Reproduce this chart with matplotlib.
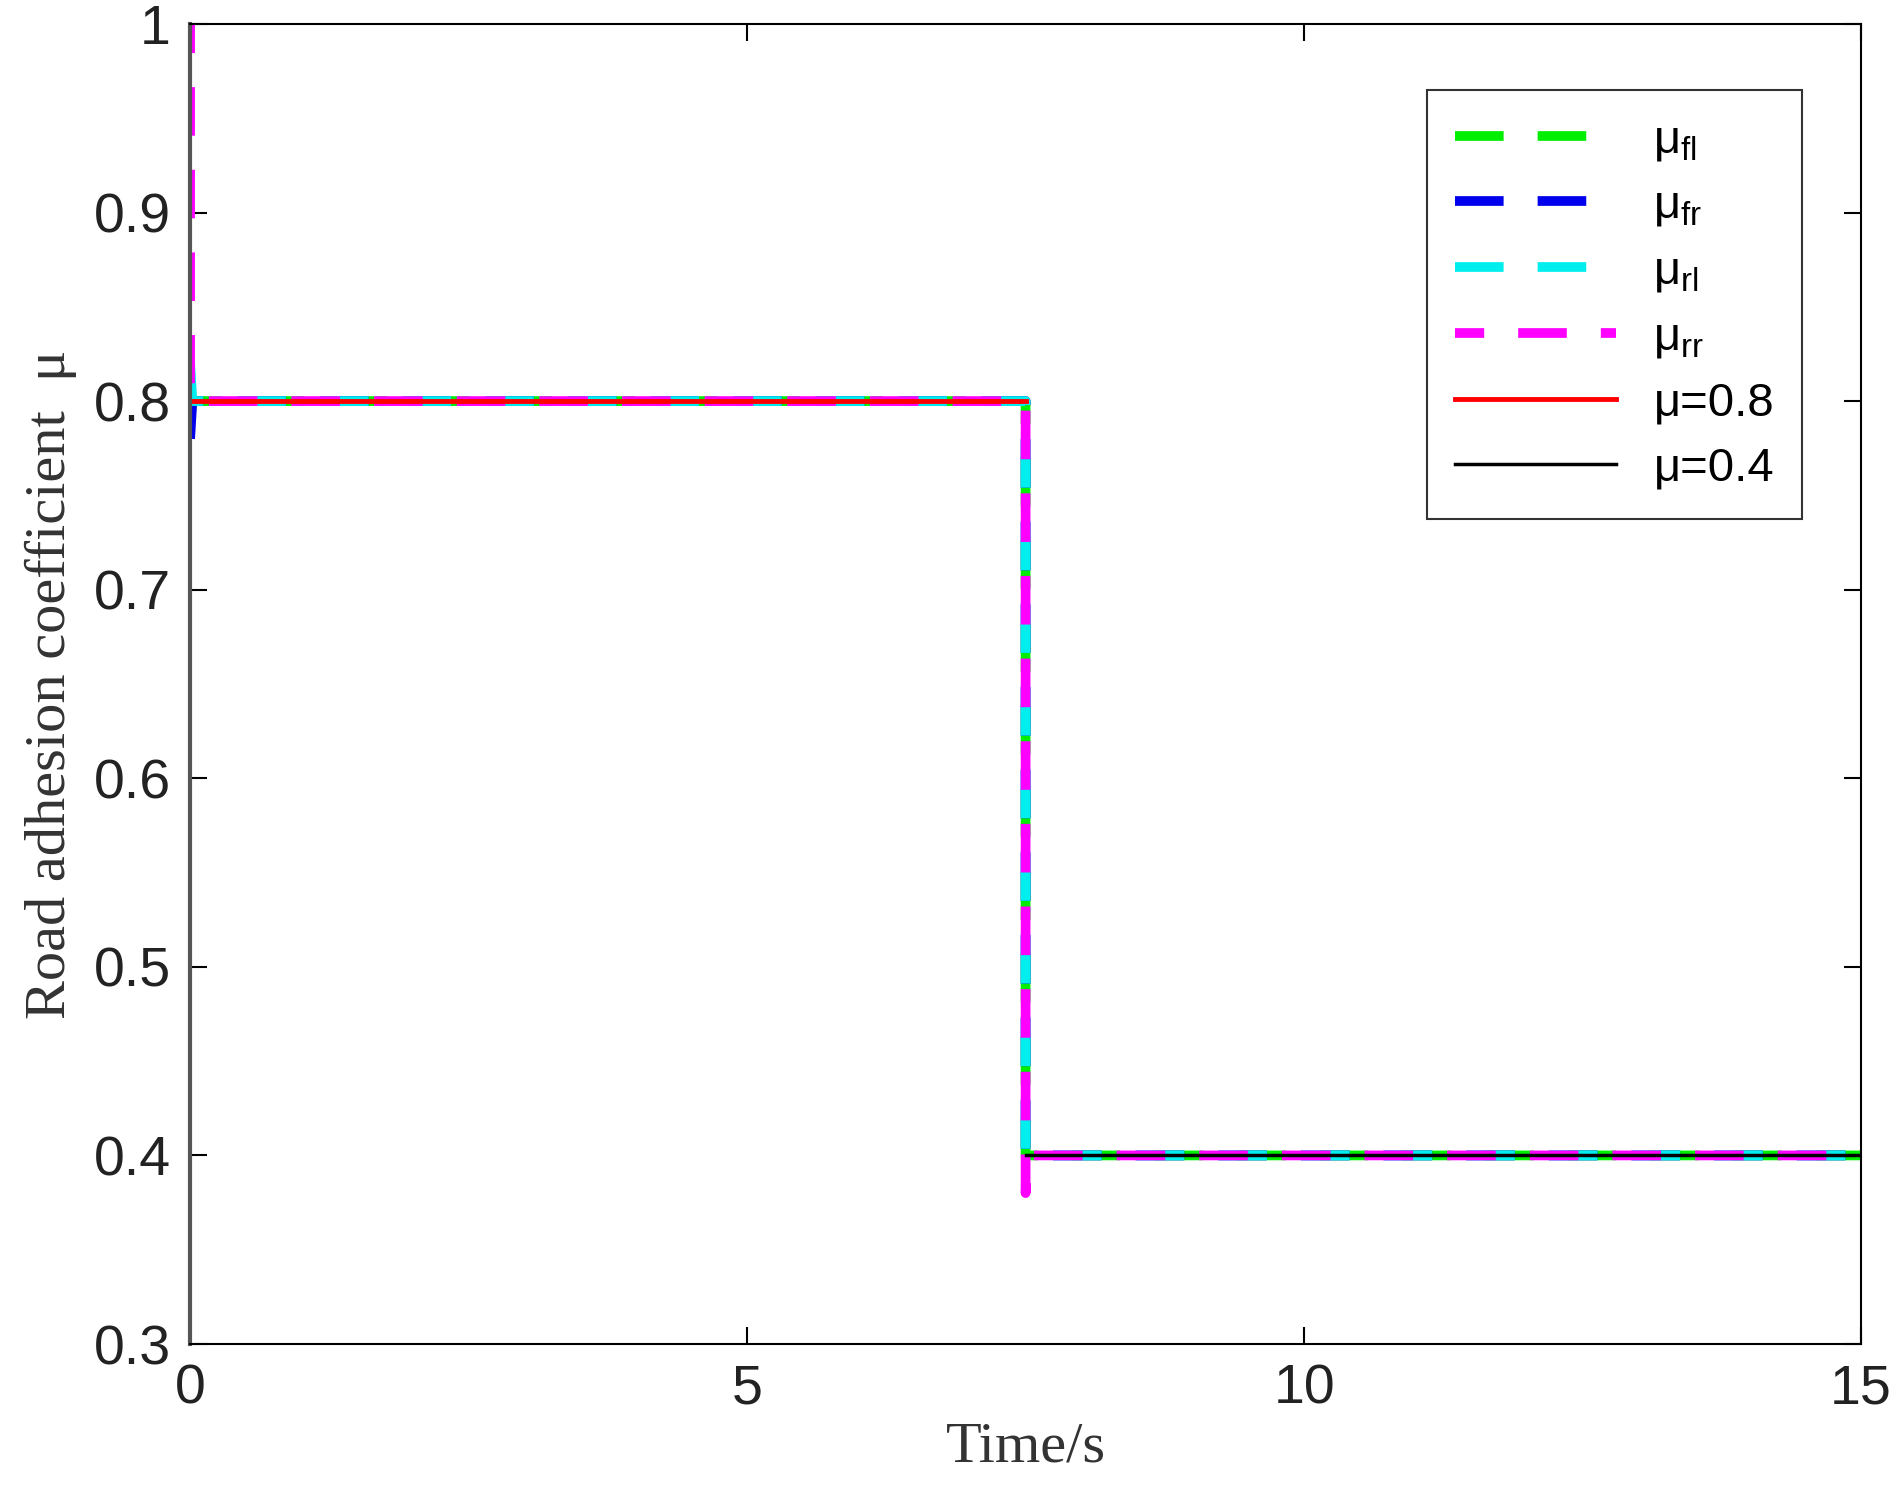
import matplotlib.pyplot as plt

# step times and values
t_fl = [0.0, 0.02, 7.5, 7.5, 15.0]
mu_fl = [0.79, 0.80, 0.80, 0.40, 0.40]
t_fr = [0.0, 0.02, 7.5, 7.5, 15.0]
mu_fr = [0.78, 0.80, 0.80, 0.40, 0.40]
t_rl = [0.0, 0.02, 7.5, 7.5, 15.0]
mu_rl = [0.82, 0.80, 0.80, 0.40, 0.40]
t_rr = [0.0, 0.0, 0.02, 7.5, 7.5, 7.52, 15.0]
mu_rr = [1.0, 0.81, 0.80, 0.80, 0.38, 0.40, 0.40]
t_ref1 = [0.0, 7.5]
mu_ref1 = [0.8, 0.8]
t_ref2 = [7.5, 15.0]
mu_ref2 = [0.4, 0.4]

plt.rcParams["mathtext.fontset"] = "custom"
plt.rcParams["mathtext.rm"] = "Liberation Sans"

fig = plt.figure(figsize=(19.01, 14.95), dpi=100)
ax = fig.add_axes([0.100, 0.101, 0.879, 0.883])

dash = (0, (5, 3.5))
ax.plot(t_fl, mu_fl, color="#00ee00", lw=7, linestyle=dash, label=r"μ$_{\mathrm{fl}}$")
ax.plot(t_fr, mu_fr, color="#0000ee", lw=7, linestyle=dash, label=r"μ$_{\mathrm{fr}}$")
ax.plot(t_rl, mu_rl, color="#00eeee", lw=7, linestyle=dash, label=r"μ$_{\mathrm{rl}}$")
ax.plot(t_rr, mu_rr, color="#ff00ff", lw=7, linestyle=(2, (5, 3.5)), label=r"μ$_{\mathrm{rr}}$")
ax.plot(t_ref1, mu_ref1, color="red", lw=3.5, label="μ=0.8")
ax.plot(t_ref2, mu_ref2, color="black", lw=2.5, label="μ=0.4")

ax.set_xlim(0, 15)
ax.set_ylim(0.3, 1.0)
ax.set_xticks([0, 5, 10, 15])
ax.set_yticks([0.3, 0.4, 0.5, 0.6, 0.7, 0.8, 0.9, 1.0])
ax.set_yticklabels(["0.3", "0.4", "0.5", "0.6", "0.7", "0.8", "0.9", "1"])
ax.tick_params(direction="in", length=12, width=1.5, labelsize=40,
               top=True, right=True, pad=14)
for lab in ax.get_xticklabels() + ax.get_yticklabels():
    lab.set_family("Liberation Sans")
    lab.set_color("#222222")
for s in ax.spines.values():
    s.set_linewidth(1.5)
ax.spines["left"].set_linewidth(3)
ax.spines["left"].set_color("#555555")

ax.set_xlabel("Time/s", family="Liberation Serif", fontsize=42, labelpad=4,
              color="#333333")
ax.set_ylabel("Road adhesion coefficient  μ", family="Liberation Serif",
              fontsize=42, labelpad=12, color="#333333")

leg = ax.legend(loc="upper right", bbox_to_anchor=(0.979, 0.968), fontsize=34,
                fancybox=False, edgecolor="black", handlelength=3.4,
                labelspacing=0.45, borderpad=0.6, prop={"family": "Liberation Sans", "size": 34})
leg.get_frame().set_linewidth(1.5)

fig.savefig("out.png", dpi=100)
